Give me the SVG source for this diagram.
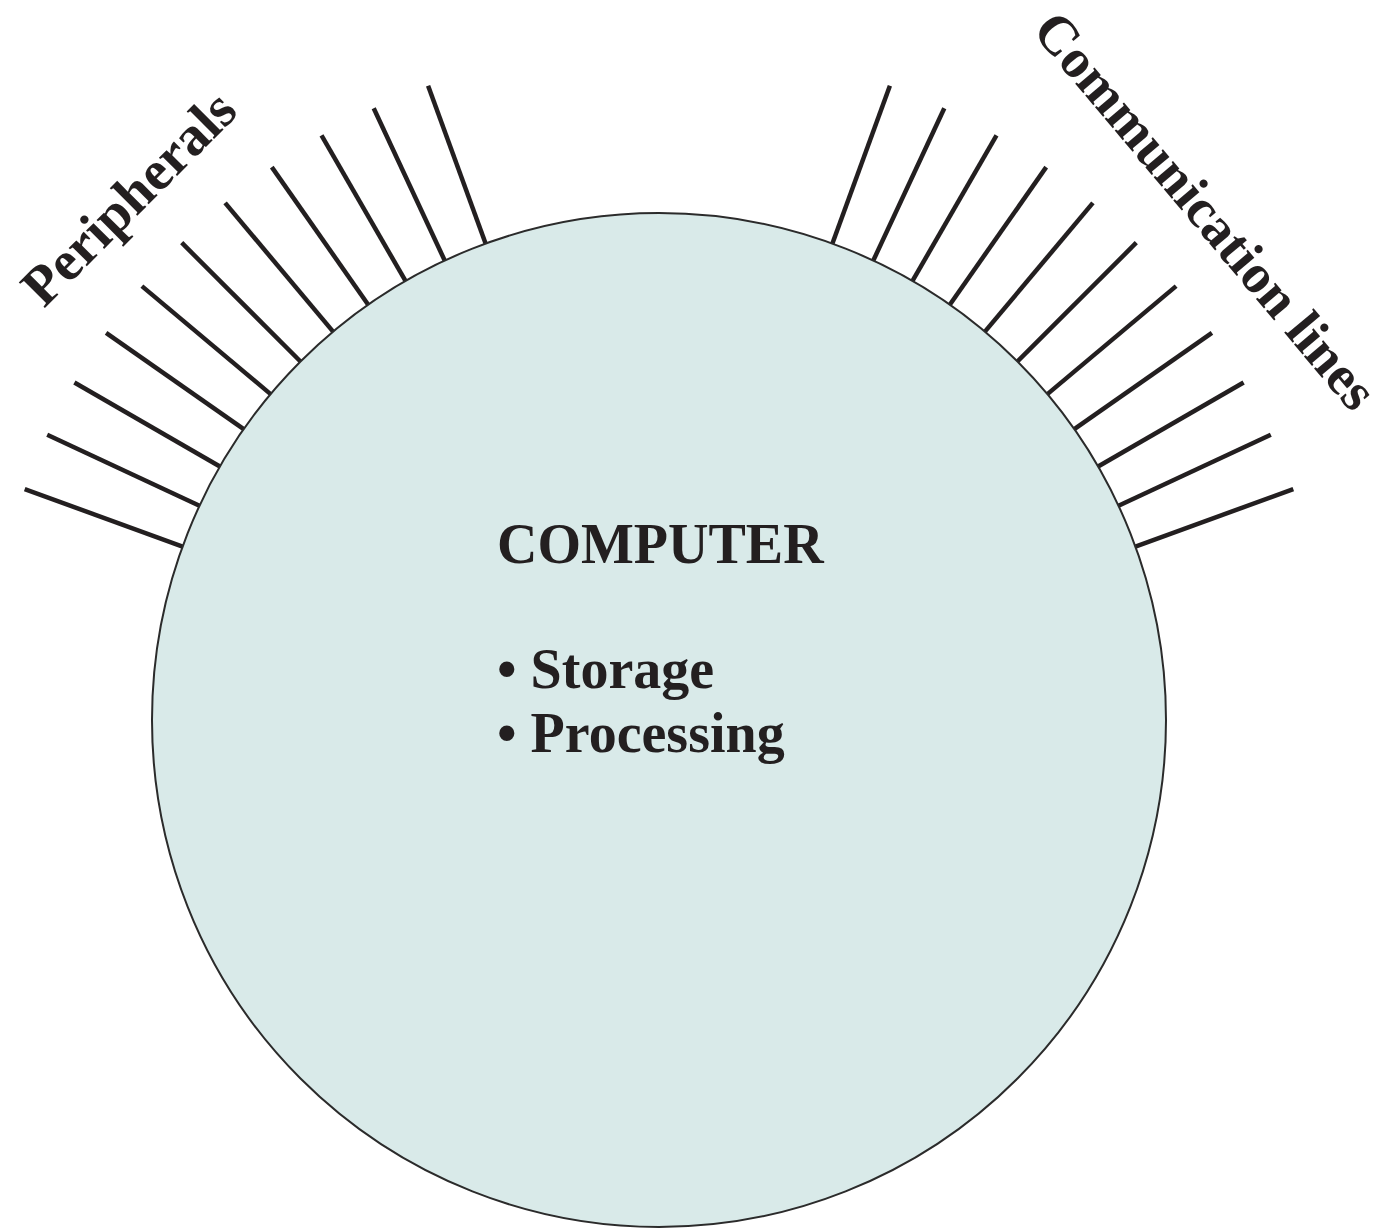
<svg xmlns="http://www.w3.org/2000/svg" width="1383" height="1230" viewBox="0 0 1383 1230">
<style>
.txt{font-family:"Liberation Serif","Times New Roman",serif;font-weight:bold;fill:#231f20}
.ln{stroke:#231f20;stroke-width:4.5;stroke-linecap:butt}
</style>
<rect width="1383" height="1230" fill="#ffffff"/>
<g id="connectors">
<line class="ln" x1="182.6" y1="546.6" x2="24.7" y2="489.1"/>
<line class="ln" x1="199.5" y1="505.7" x2="47.2" y2="434.7"/>
<line class="ln" x1="219.9" y1="466.5" x2="74.4" y2="382.5"/>
<line class="ln" x1="243.7" y1="429.2" x2="106.1" y2="332.8"/>
<line class="ln" x1="270.6" y1="394.1" x2="141.9" y2="286.1"/>
<line class="ln" x1="300.5" y1="361.5" x2="181.7" y2="242.7"/>
<line class="ln" x1="333.1" y1="331.6" x2="225.1" y2="202.9"/>
<line class="ln" x1="368.2" y1="304.7" x2="271.8" y2="167.1"/>
<line class="ln" x1="405.5" y1="280.9" x2="321.5" y2="135.4"/>
<line class="ln" x1="444.7" y1="260.5" x2="373.7" y2="108.2"/>
<line class="ln" x1="485.6" y1="243.6" x2="428.1" y2="85.7"/>
<line class="ln" x1="1135.4" y1="546.6" x2="1293.3" y2="489.1"/>
<line class="ln" x1="1118.5" y1="505.7" x2="1270.8" y2="434.7"/>
<line class="ln" x1="1098.1" y1="466.5" x2="1243.6" y2="382.5"/>
<line class="ln" x1="1074.3" y1="429.2" x2="1211.9" y2="332.8"/>
<line class="ln" x1="1047.4" y1="394.1" x2="1176.1" y2="286.1"/>
<line class="ln" x1="1017.5" y1="361.5" x2="1136.3" y2="242.7"/>
<line class="ln" x1="984.9" y1="331.6" x2="1092.9" y2="202.9"/>
<line class="ln" x1="949.8" y1="304.7" x2="1046.2" y2="167.1"/>
<line class="ln" x1="912.5" y1="280.9" x2="996.5" y2="135.4"/>
<line class="ln" x1="873.3" y1="260.5" x2="944.3" y2="108.2"/>
<line class="ln" x1="832.4" y1="243.6" x2="889.9" y2="85.7"/>
</g>
<g id="computer">
<circle cx="659" cy="720" r="507" fill="#d9eae9" stroke="#2b2b2b" stroke-width="2"/>
<text class="txt" x="497" y="563" font-size="56">COMPUTER</text>
<text class="txt" x="497" y="688" font-size="56">• Storage</text>
<text class="txt" x="497" y="752" font-size="56">• Processing</text>
</g>
<g id="peripherals">
<text class="txt" font-size="56" transform="translate(44,309) rotate(-45)">Peripherals</text>
</g>
<g id="communication-lines">
<text class="txt" font-size="55" transform="translate(1031,31) rotate(50)">Communication lines</text>
</g>
</svg>
